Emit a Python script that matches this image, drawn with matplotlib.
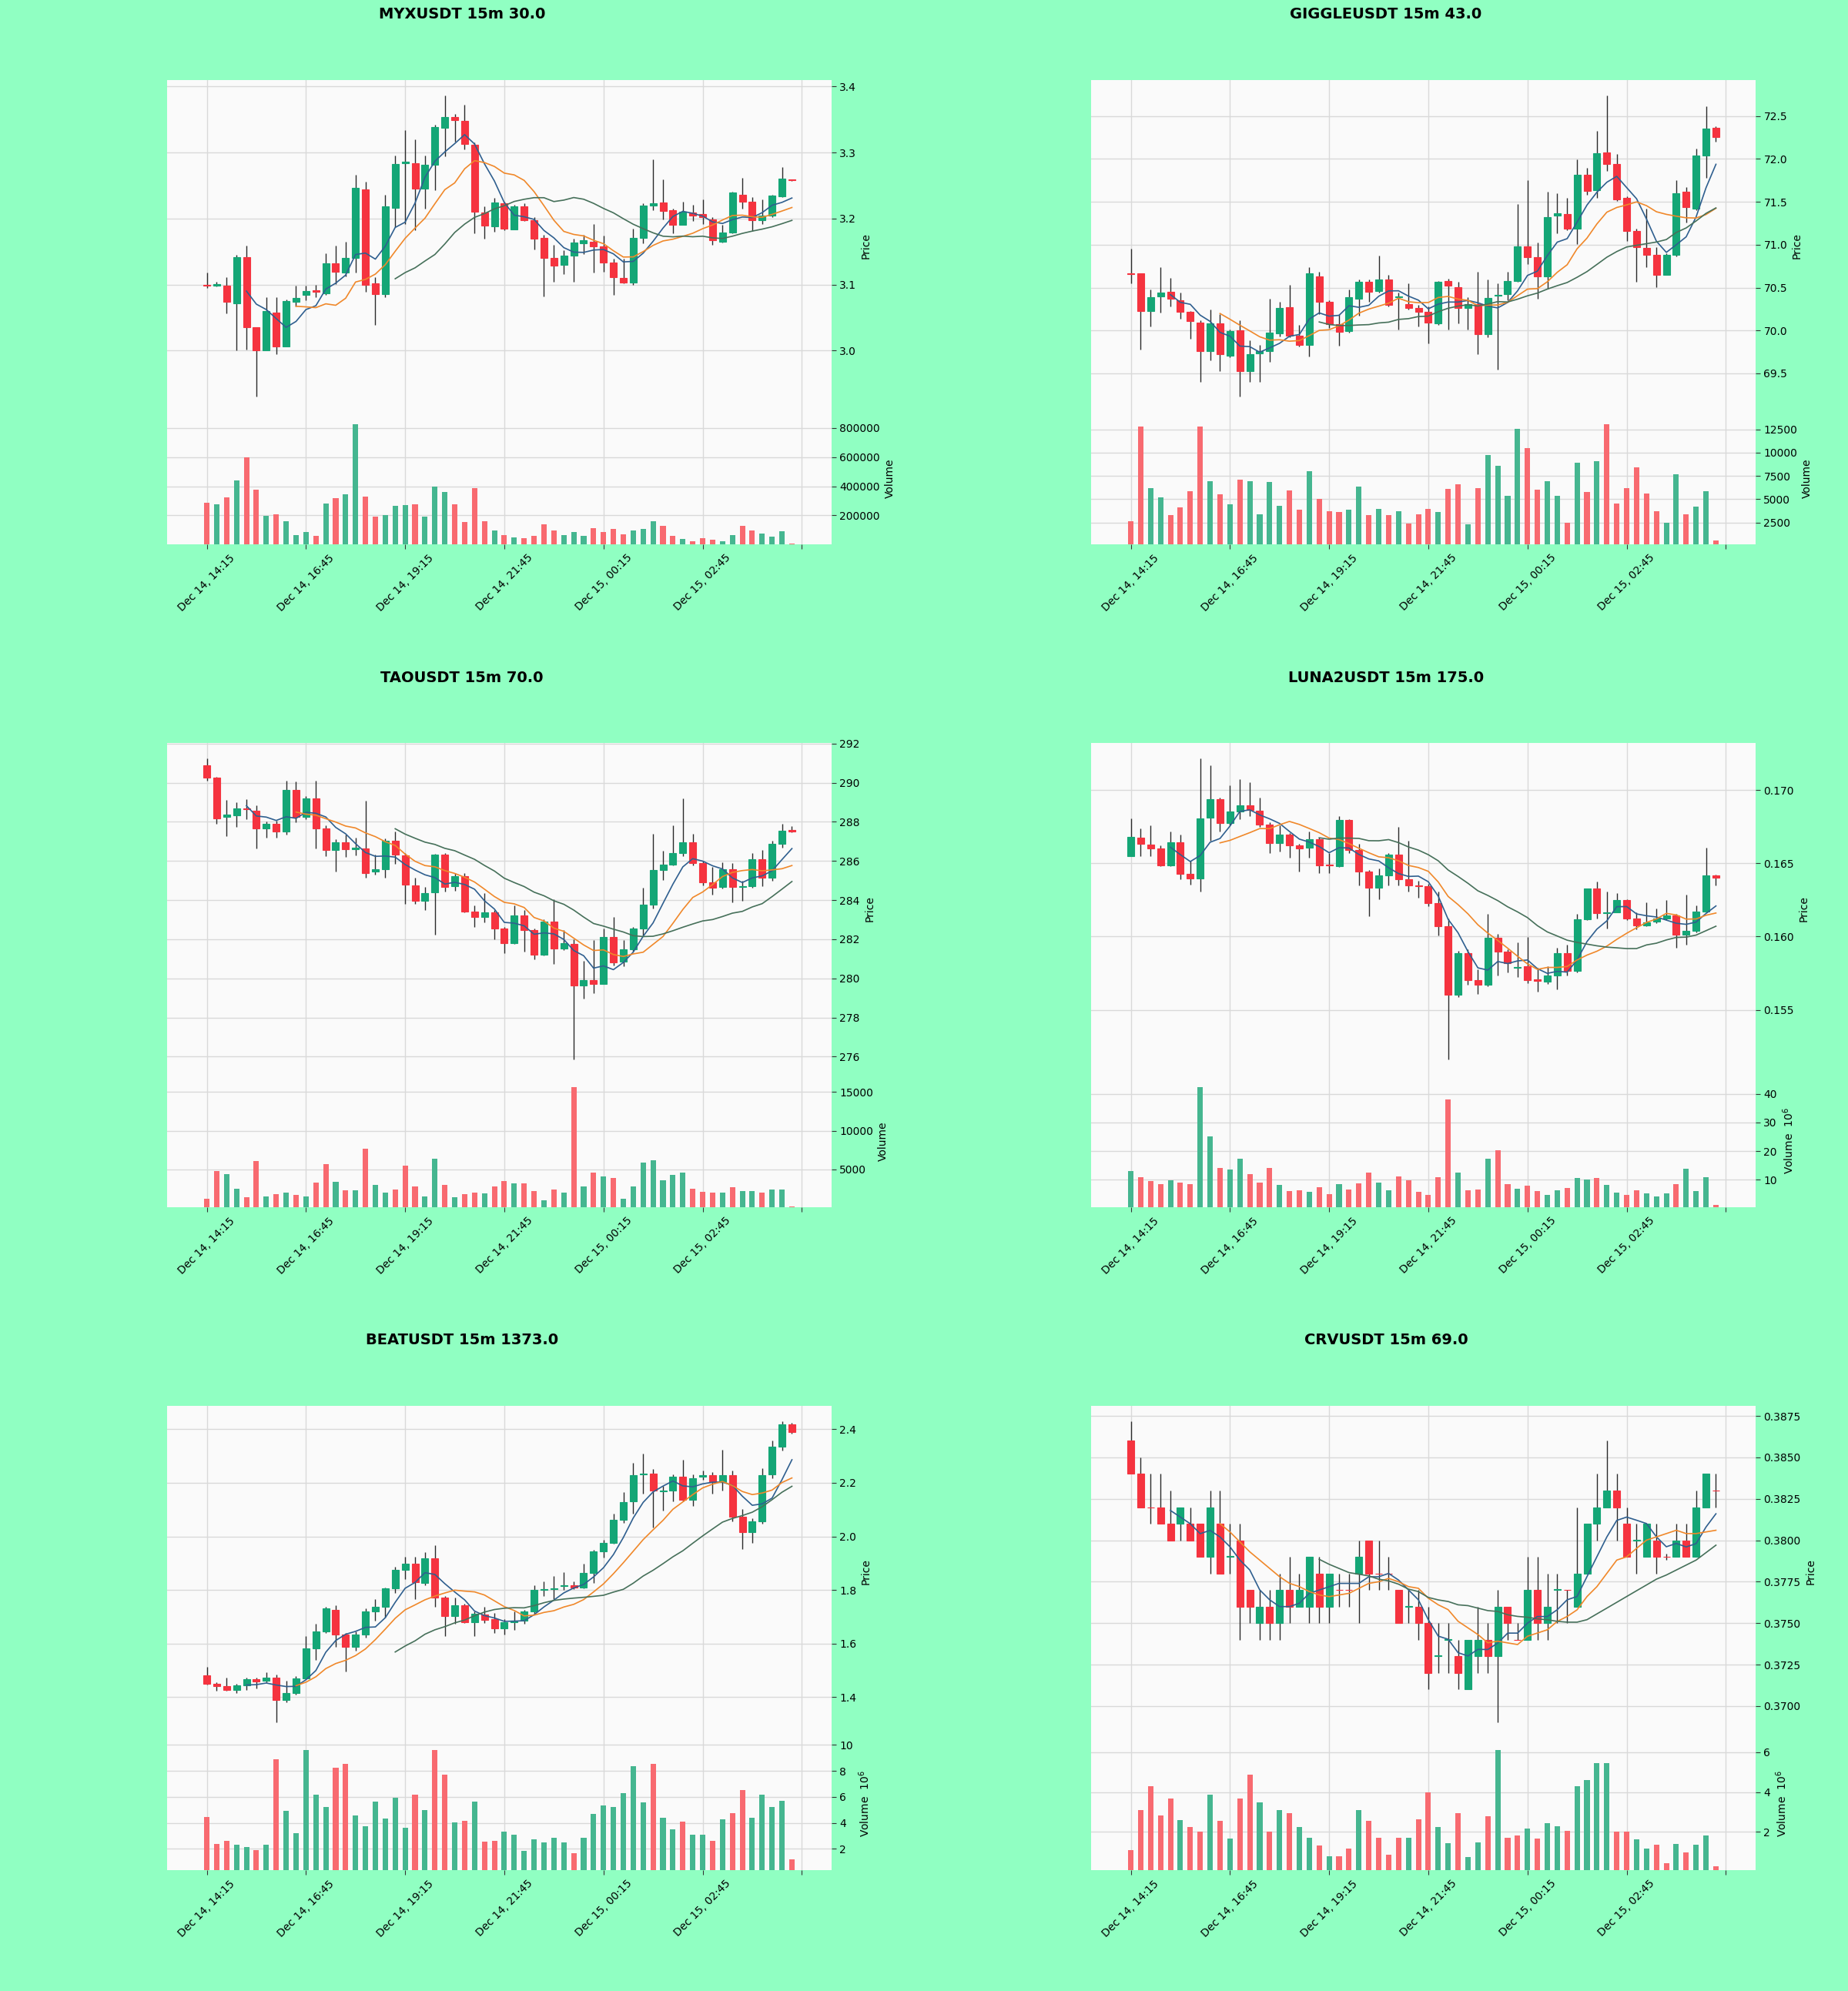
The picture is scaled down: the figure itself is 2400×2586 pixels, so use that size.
import numpy as np
import pandas as pd
import matplotlib
matplotlib.use('Agg')
import matplotlib.pyplot as plt
from matplotlib.ticker import FuncFormatter, MultipleLocator, ScalarFormatter

# 15m bars, 60 per symbol, first bar Dec 14 14:15
bar_times = pd.date_range('2025-12-14 14:15', periods=60, freq='15min')

symbols = ['MYXUSDT', 'GIGGLEUSDT', 'TAOUSDT', 'LUNA2USDT', 'BEATUSDT', 'CRVUSDT']
scores = [30.0, 43.0, 70.0, 175.0, 1373.0, 69.0]

# ---- MYXUSDT ----
myx_open = [3.100, 3.099, 3.099, 3.072, 3.142, 3.036, 3.000, 3.058, 3.006, 3.074,
            3.084, 3.091, 3.087, 3.132, 3.118, 3.141, 3.244, 3.102, 3.086, 3.216,
            3.284, 3.284, 3.245, 3.281, 3.337, 3.354, 3.348, 3.312, 3.209, 3.188,
            3.223, 3.184, 3.218, 3.198, 3.171, 3.140, 3.130, 3.144, 3.162, 3.165,
            3.158, 3.133, 3.110, 3.103, 3.171, 3.220, 3.224, 3.213, 3.191, 3.209,
            3.207, 3.199, 3.165, 3.179, 3.236, 3.225, 3.198, 3.204, 3.234, 3.259]
myx_high = [3.118, 3.104, 3.111, 3.145, 3.159, 3.036, 3.081, 3.081, 3.078, 3.099,
            3.099, 3.100, 3.148, 3.159, 3.165, 3.266, 3.256, 3.111, 3.236, 3.296,
            3.334, 3.320, 3.296, 3.342, 3.387, 3.359, 3.373, 3.315, 3.219, 3.231,
            3.226, 3.221, 3.223, 3.202, 3.175, 3.160, 3.152, 3.170, 3.175, 3.192,
            3.174, 3.139, 3.139, 3.185, 3.223, 3.290, 3.259, 3.215, 3.225, 3.221,
            3.229, 3.202, 3.190, 3.241, 3.262, 3.232, 3.229, 3.236, 3.278, 3.259]
myx_low = [3.095, 3.097, 3.057, 3.000, 3.002, 2.930, 3.000, 2.995, 3.006, 3.067,
           3.076, 3.081, 3.085, 3.101, 3.113, 3.118, 3.089, 3.039, 3.081, 3.187,
           3.192, 3.182, 3.215, 3.243, 3.294, 3.317, 3.305, 3.178, 3.169, 3.180,
           3.182, 3.183, 3.196, 3.153, 3.082, 3.104, 3.116, 3.104, 3.146, 3.118,
           3.119, 3.085, 3.102, 3.100, 3.162, 3.213, 3.199, 3.178, 3.190, 3.196,
           3.192, 3.160, 3.164, 3.178, 3.215, 3.181, 3.192, 3.202, 3.232, 3.257]
myx_close = [3.099, 3.101, 3.074, 3.142, 3.035, 3.000, 3.060, 3.006, 3.075, 3.080,
             3.090, 3.089, 3.132, 3.120, 3.141, 3.246, 3.100, 3.086, 3.218, 3.283,
             3.286, 3.245, 3.281, 3.339, 3.354, 3.349, 3.313, 3.210, 3.189, 3.224,
             3.185, 3.218, 3.198, 3.169, 3.140, 3.129, 3.144, 3.164, 3.167, 3.158,
             3.133, 3.111, 3.103, 3.171, 3.220, 3.223, 3.211, 3.191, 3.210, 3.205,
             3.202, 3.167, 3.179, 3.239, 3.225, 3.198, 3.204, 3.235, 3.261, 3.258]
myx_vol = [284e3, 278e3, 322e3, 442e3, 596e3, 375e3, 196e3, 210e3, 158e3, 63e3,
           84e3, 57e3, 280e3, 316e3, 347e3, 827e3, 330e3, 190e3, 204e3, 263e3,
           269e3, 274e3, 192e3, 400e3, 358e3, 276e3, 152e3, 389e3, 158e3, 99e3,
           63e3, 48e3, 42e3, 57e3, 141e3, 95e3, 63e3, 88e3, 59e3, 112e3,
           88e3, 105e3, 69e3, 95e3, 105e3, 162e3, 130e3, 57e3, 36e3, 21e3,
           46e3, 32e3, 21e3, 67e3, 130e3, 99e3, 74e3, 53e3, 90e3, 5e3]

# ---- GIGGLEUSDT ----
giggle_open = [70.662, 70.662, 70.224, 70.395, 70.449, 70.349, 70.214, 70.093, 69.761, 70.082,
               69.708, 70.000, 69.530, 69.736, 69.761, 69.964, 70.271, 69.939, 69.833, 70.634,
               70.331, 70.071, 69.993, 70.367, 70.570, 70.456, 70.591, 70.390, 70.306, 70.260,
               70.214, 70.082, 70.580, 70.509, 70.260, 70.306, 69.957, 70.410, 70.420, 70.577,
               70.983, 70.855, 70.627, 71.339, 71.353, 71.186, 71.816, 71.638, 72.073, 71.944,
               71.542, 71.161, 70.965, 70.883, 70.652, 70.883, 71.613, 71.424, 72.041, 72.361]
giggle_high = [70.954, 70.670, 70.474, 70.734, 70.616, 70.438, 70.224, 70.118, 70.242, 70.189,
               70.011, 70.118, 69.886, 69.833, 70.367, 70.331, 70.527, 70.064, 70.741, 70.687,
               70.349, 70.189, 70.474, 70.598, 70.598, 70.876, 70.652, 70.440, 70.545, 70.296,
               70.278, 70.580, 70.605, 70.563, 70.385, 70.687, 70.598, 70.545, 70.687, 71.471,
               71.756, 71.026, 71.613, 71.595, 71.542, 71.994, 71.898, 72.326, 72.742, 72.058,
               71.560, 71.186, 71.417, 70.972, 70.901, 71.756, 71.667, 72.119, 72.610, 72.379]
giggle_low = [70.545, 69.779, 70.046, 70.207, 70.278, 70.135, 69.904, 69.405, 69.655, 69.530,
              69.690, 69.227, 69.405, 69.405, 69.637, 69.929, 69.922, 69.815, 69.700, 70.189,
              70.028, 69.822, 69.975, 70.171, 70.331, 70.438, 70.278, 70.010, 70.242, 70.046,
              69.850, 70.064, 70.011, 70.082, 70.011, 69.726, 69.920, 69.548, 70.349, 70.563,
              70.776, 70.367, 70.491, 71.132, 71.168, 71.008, 71.578, 71.542, 71.863, 71.506,
              71.043, 70.563, 70.741, 70.509, 70.652, 70.865, 71.257, 71.400, 71.774, 72.200]
giggle_close = [70.660, 70.224, 70.392, 70.445, 70.367, 70.214, 70.107, 69.761, 70.082, 69.726,
                69.993, 69.530, 69.726, 69.761, 69.975, 70.260, 69.939, 69.833, 70.662, 70.331,
                70.071, 69.986, 70.392, 70.570, 70.449, 70.598, 70.296, 70.400, 70.260, 70.214,
                70.093, 70.570, 70.520, 70.260, 70.306, 69.957, 70.377, 70.415, 70.577, 70.983,
                70.855, 70.627, 71.318, 71.364, 71.186, 71.816, 71.624, 72.066, 71.944, 71.531,
                71.161, 70.972, 70.883, 70.652, 70.883, 71.603, 71.435, 72.041, 72.350, 72.254]
giggle_vol = [2632, 12765, 6185, 5165, 3290, 4112, 5856, 12831, 6975, 5527,
              4441, 7139, 6909, 3356, 6843, 4277, 5922, 3882, 8028, 5000,
              3685, 3619, 3882, 6350, 3290, 3948, 3290, 3685, 2369, 3356,
              3948, 3619, 6086, 6580, 2303, 6185, 9771, 8554, 5330, 12568,
              10462, 5988, 6909, 5330, 2468, 8949, 5758, 9113, 13061, 4540,
              6185, 8455, 5593, 3685, 2468, 7666, 3356, 4211, 5856, 559]

# ---- TAOUSDT ----
tao_open = [290.90, 290.27, 288.24, 288.33, 288.69, 288.55, 287.65, 287.89, 287.50, 289.62,
            288.24, 289.18, 287.65, 286.56, 286.95, 286.60, 286.64, 285.46, 285.58, 287.03,
            286.27, 284.75, 283.97, 284.41, 286.32, 284.71, 285.22, 283.42, 283.15, 283.39,
            282.56, 281.80, 283.22, 282.48, 281.22, 282.90, 281.54, 281.77, 279.65, 279.89,
            279.73, 282.12, 280.86, 281.49, 282.53, 283.78, 285.54, 285.82, 286.40, 286.95,
            285.88, 284.91, 284.67, 285.58, 284.67, 284.70, 286.09, 285.15, 286.87, 287.58]
tao_high = [291.26, 290.30, 289.11, 289.02, 289.15, 288.83, 288.00, 288.05, 290.09, 290.05,
            289.30, 290.09, 287.81, 287.11, 287.34, 287.18, 289.07, 286.32, 287.14, 287.50,
            286.40, 285.15, 284.67, 286.35, 286.40, 285.38, 285.38, 283.73, 284.36, 283.50,
            282.64, 283.73, 283.49, 282.53, 283.03, 284.05, 282.48, 282.01, 280.91, 281.96,
            282.56, 283.15, 281.96, 282.64, 284.63, 287.39, 286.51, 287.81, 289.18, 287.39,
            286.01, 285.69, 285.93, 285.88, 284.99, 286.40, 286.56, 287.03, 287.89, 287.78]
tao_low = [290.09, 287.89, 287.26, 287.73, 288.13, 286.64, 287.18, 287.18, 287.34, 287.97,
           288.13, 286.64, 286.24, 285.46, 286.20, 286.27, 285.15, 285.30, 285.15, 285.85,
           283.81, 283.81, 283.50, 282.24, 284.44, 284.47, 283.37, 282.64, 282.87, 282.01,
           281.27, 281.77, 281.38, 280.99, 281.15, 280.75, 281.46, 275.84, 278.98, 279.26,
           279.70, 280.67, 280.60, 281.38, 282.16, 283.58, 285.04, 285.77, 286.24, 285.77,
           284.75, 284.28, 284.60, 283.89, 283.97, 284.64, 284.72, 284.99, 286.67, 287.47]
tao_close = [290.27, 288.17, 288.36, 288.67, 288.64, 287.65, 287.89, 287.50, 289.62, 288.24,
             289.18, 287.65, 286.56, 286.95, 286.60, 286.67, 285.38, 285.58, 287.03, 286.32,
             284.78, 283.97, 284.36, 286.32, 284.67, 285.22, 283.42, 283.15, 283.37, 282.56,
             281.80, 283.22, 282.48, 281.22, 282.90, 281.54, 281.80, 279.65, 279.89, 279.73,
             282.12, 280.83, 281.49, 282.53, 283.78, 285.54, 285.82, 286.40, 286.95, 285.88,
             284.91, 284.63, 285.58, 284.67, 284.70, 286.09, 285.15, 286.87, 287.55, 287.51]
tao_vol = [1200, 4800, 4400, 2480, 1400, 6080, 1480, 1800, 2000, 1680,
           1480, 3280, 5680, 3360, 2280, 2280, 7680, 3000, 2000, 2360,
           5480, 2800, 1480, 6320, 3000, 1400, 1720, 1920, 1880, 2800,
           3480, 3120, 3120, 2120, 1000, 2400, 2000, 15680, 2720, 4600,
           4080, 3880, 1120, 2720, 5880, 6200, 3600, 4280, 4600, 2480,
           2080, 2000, 1920, 2680, 2120, 2120, 2000, 2400, 2400, 200]

# ---- LUNA2USDT ----
luna_open = [0.16550, 0.16675, 0.16627, 0.16602, 0.16487, 0.16644, 0.16426, 0.16397, 0.16811, 0.16940,
             0.16773, 0.16852, 0.16898, 0.16857, 0.16765, 0.16639, 0.16696, 0.16623, 0.16606, 0.16664,
             0.16490, 0.16481, 0.16794, 0.16591, 0.16445, 0.16334, 0.16418, 0.16560, 0.16393, 0.16350,
             0.16345, 0.16226, 0.16069, 0.15603, 0.15887, 0.15703, 0.15672, 0.15992, 0.15896, 0.15789,
             0.15797, 0.15707, 0.15693, 0.15735, 0.15887, 0.15766, 0.16117, 0.16326, 0.16159, 0.16167,
             0.16251, 0.16121, 0.16075, 0.16104, 0.16125, 0.16146, 0.16013, 0.16038, 0.16173, 0.16418]
luna_high = [0.16807, 0.16738, 0.16758, 0.16623, 0.16717, 0.16696, 0.16518, 0.17218, 0.17166, 0.16946,
             0.17030, 0.17072, 0.17051, 0.16946, 0.16779, 0.16758, 0.16706, 0.16633, 0.16717, 0.16675,
             0.16570, 0.16821, 0.16800, 0.16633, 0.16455, 0.16466, 0.16570, 0.16748, 0.16654, 0.16382,
             0.16361, 0.16309, 0.16121, 0.15902, 0.15912, 0.15776, 0.16153, 0.16017, 0.15912, 0.15958,
             0.15996, 0.15787, 0.15797, 0.15923, 0.15944, 0.16153, 0.16330, 0.16376, 0.16309, 0.16299,
             0.16257, 0.16167, 0.16236, 0.16194, 0.16247, 0.16153, 0.16288, 0.16215, 0.16606, 0.16424]
luna_low = [0.16550, 0.16550, 0.16550, 0.16481, 0.16481, 0.16393, 0.16355, 0.16305, 0.16654, 0.16717,
            0.16758, 0.16800, 0.16821, 0.16748, 0.16570, 0.16581, 0.16539, 0.16445, 0.16539, 0.16435,
            0.16435, 0.16477, 0.16570, 0.16351, 0.16138, 0.16257, 0.16347, 0.16347, 0.16309, 0.16267,
            0.16205, 0.16006, 0.15160, 0.15588, 0.15672, 0.15609, 0.15662, 0.15735, 0.15756, 0.15724,
            0.15682, 0.15624, 0.15678, 0.15641, 0.15735, 0.15756, 0.16111, 0.16121, 0.16054, 0.16163,
            0.16111, 0.16048, 0.16069, 0.16090, 0.16111, 0.15923, 0.15944, 0.16027, 0.16163, 0.16347]
luna_close = [0.16681, 0.16633, 0.16602, 0.16487, 0.16644, 0.16430, 0.16397, 0.16807, 0.16940, 0.16773,
              0.16852, 0.16898, 0.16863, 0.16765, 0.16639, 0.16696, 0.16623, 0.16602, 0.16664, 0.16487,
              0.16485, 0.16794, 0.16591, 0.16445, 0.16334, 0.16418, 0.16560, 0.16393, 0.16347, 0.16345,
              0.16226, 0.16069, 0.15603, 0.15887, 0.15703, 0.15672, 0.15992, 0.15896, 0.15818, 0.15793,
              0.15703, 0.15697, 0.15735, 0.15887, 0.15766, 0.16117, 0.16326, 0.16159, 0.16167, 0.16251,
              0.16121, 0.16075, 0.16096, 0.16125, 0.16146, 0.16013, 0.16038, 0.16173, 0.16418, 0.16403]
luna_vol_m = [13.0, 10.9, 9.5, 8.4, 9.8, 9.0, 8.4, 42.4, 25.0, 14.0,
              13.5, 17.3, 12.0, 9.0, 14.0, 8.1, 6.0, 6.3, 5.8, 7.4,
              4.9, 8.4, 6.6, 8.8, 12.4, 9.0, 6.3, 11.1, 9.8, 5.8,
              4.7, 10.8, 38.1, 12.4, 6.3, 6.6, 17.3, 20.2, 8.4, 6.8,
              7.9, 6.0, 4.7, 6.3, 7.1, 10.6, 10.1, 10.6, 8.1, 5.5,
              4.7, 6.3, 5.2, 4.2, 5.2, 8.4, 13.8, 6.0, 10.9, 1.2]

# ---- BEATUSDT ----
beat_open = [1.4805, 1.4506, 1.4414, 1.4253, 1.4425, 1.4655, 1.4598, 1.4713, 1.3885, 1.4138,
             1.4690, 1.5805, 1.6437, 1.7264, 1.6322, 1.5862, 1.6345, 1.7184, 1.7379, 1.8046,
             1.8736, 1.8966, 1.8253, 1.9195, 1.7724, 1.7011, 1.7414, 1.6805, 1.7069, 1.6897,
             1.6575, 1.6805, 1.6840, 1.7184, 1.8015, 1.8035, 1.8138, 1.8184, 1.8103, 1.8644,
             1.9448, 1.9770, 2.0632, 2.1322, 2.2322, 2.2356, 2.1690, 2.1724, 2.2241, 2.1379,
             2.2241, 2.2276, 2.2034, 2.2299, 2.0747, 2.0172, 2.0575, 2.2322, 2.3356, 2.4195]
beat_high = [1.5115, 1.4540, 1.4713, 1.4483, 1.4713, 1.4736, 1.4920, 1.4828, 1.4598, 1.4770,
             1.6264, 1.6724, 1.7356, 1.7414, 1.6379, 1.6437, 1.7299, 1.7644, 1.8103, 1.8851,
             1.9250, 1.9250, 1.9402, 1.9678, 1.7759, 1.7701, 1.7471, 1.7184, 1.7356, 1.7149,
             1.6897, 1.7184, 1.7241, 1.8161, 1.8333, 1.8506, 1.8678, 1.8333, 1.8990, 1.9483,
             1.9885, 2.0862, 2.1667, 2.2759, 2.3103, 2.2529, 2.1897, 2.2322, 2.2874, 2.2322,
             2.2471, 2.2414, 2.3241, 2.2471, 2.1011, 2.0690, 2.2552, 2.3586, 2.4310, 2.4230]
beat_low = [1.4460, 1.4230, 1.4230, 1.4161, 1.4253, 1.4310, 1.4540, 1.3046, 1.3793, 1.4080,
            1.4655, 1.5400, 1.6379, 1.5862, 1.4943, 1.5724, 1.6207, 1.6839, 1.6954, 1.7874,
            1.8391, 1.7644, 1.8184, 1.7379, 1.6264, 1.6724, 1.6759, 1.6264, 1.6759, 1.6380,
            1.6322, 1.6494, 1.6724, 1.7103, 1.7759, 1.7644, 1.7989, 1.8023, 1.8046, 1.8253,
            1.9218, 1.9713, 2.0517, 2.0862, 2.1609, 2.0345, 2.0977, 2.1322, 2.1322, 2.1149,
            2.2126, 2.1586, 2.1724, 2.0575, 1.9540, 1.9770, 2.0483, 2.2184, 2.3218, 2.3850]
beat_close = [1.4506, 1.4414, 1.4253, 1.4425, 1.4655, 1.4575, 1.4713, 1.3885, 1.4138, 1.4690,
              1.5805, 1.6437, 1.7300, 1.6322, 1.5862, 1.6345, 1.7184, 1.7379, 1.8046, 1.8736,
              1.8966, 1.8276, 1.9195, 1.7724, 1.7011, 1.7414, 1.6805, 1.7103, 1.6874, 1.6575,
              1.6782, 1.6840, 1.7184, 1.7989, 1.8035, 1.8058, 1.8184, 1.8103, 1.8644, 1.9448,
              1.9770, 2.0632, 2.1287, 2.2299, 2.2356, 2.1724, 2.1724, 2.2241, 2.1379, 2.2184,
              2.2276, 2.2034, 2.2276, 2.0747, 2.0172, 2.0575, 2.2299, 2.3356, 2.4195, 2.3885]
beat_vol_m = [4.44, 2.35, 2.59, 2.30, 2.16, 1.88, 2.30, 8.88, 4.92, 3.18,
              9.60, 6.20, 5.25, 8.22, 8.57, 4.56, 3.73, 5.61, 4.32, 5.91,
              3.61, 6.20, 5.01, 9.60, 7.70, 4.01, 4.18, 5.61, 2.54, 2.59,
              3.30, 3.11, 1.83, 2.71, 2.47, 2.83, 2.47, 1.69, 2.83, 4.68,
              5.37, 5.20, 6.27, 8.36, 5.56, 8.53, 4.37, 3.49, 4.09, 3.11,
              3.11, 2.59, 4.25, 4.77, 6.51, 4.37, 6.20, 5.20, 5.72, 1.21]

# ---- CRVUSDT ----
crv_open = [0.386, 0.384, 0.382, 0.382, 0.381, 0.381, 0.381, 0.381, 0.379, 0.381,
            0.379, 0.380, 0.377, 0.375, 0.376, 0.375, 0.377, 0.376, 0.376, 0.378,
            0.376, 0.377, 0.377, 0.378, 0.380, 0.378, 0.378, 0.377, 0.376, 0.376,
            0.375, 0.373, 0.374, 0.373, 0.371, 0.373, 0.374, 0.373, 0.376, 0.374,
            0.374, 0.377, 0.375, 0.377, 0.377, 0.376, 0.378, 0.381, 0.382, 0.383,
            0.381, 0.380, 0.379, 0.380, 0.379, 0.379, 0.380, 0.379, 0.382, 0.383]
crv_high = [0.3872, 0.385, 0.384, 0.384, 0.383, 0.382, 0.382, 0.381, 0.383, 0.383,
            0.381, 0.381, 0.377, 0.377, 0.377, 0.378, 0.379, 0.378, 0.379, 0.379,
            0.378, 0.378, 0.378, 0.380, 0.380, 0.380, 0.379, 0.377, 0.377, 0.377,
            0.376, 0.375, 0.375, 0.374, 0.374, 0.376, 0.375, 0.377, 0.376, 0.375,
            0.379, 0.379, 0.378, 0.378, 0.377, 0.382, 0.381, 0.384, 0.386, 0.384,
            0.382, 0.381, 0.381, 0.381, 0.3792, 0.381, 0.381, 0.383, 0.384, 0.384]
crv_low = [0.384, 0.382, 0.381, 0.381, 0.380, 0.380, 0.380, 0.379, 0.378, 0.378,
           0.378, 0.374, 0.375, 0.374, 0.374, 0.374, 0.375, 0.376, 0.375, 0.375,
           0.375, 0.376, 0.376, 0.375, 0.377, 0.377, 0.377, 0.375, 0.375, 0.374,
           0.371, 0.372, 0.372, 0.371, 0.371, 0.372, 0.372, 0.369, 0.374, 0.374,
           0.374, 0.374, 0.374, 0.375, 0.375, 0.376, 0.378, 0.380, 0.382, 0.380,
           0.379, 0.378, 0.379, 0.378, 0.3788, 0.379, 0.379, 0.379, 0.382, 0.382]
crv_close = [0.384, 0.382, 0.382, 0.381, 0.380, 0.382, 0.380, 0.379, 0.382, 0.378,
             0.37905, 0.376, 0.376, 0.376, 0.375, 0.377, 0.376, 0.377, 0.379, 0.376,
             0.378, 0.377, 0.377, 0.379, 0.378, 0.378, 0.378, 0.375, 0.37605, 0.375,
             0.372, 0.37305, 0.37405, 0.372, 0.374, 0.374, 0.373, 0.376, 0.375, 0.374,
             0.377, 0.375, 0.376, 0.37705, 0.377, 0.378, 0.381, 0.382, 0.383, 0.382,
             0.379, 0.38005, 0.381, 0.379, 0.379, 0.380, 0.379, 0.382, 0.384, 0.383]
crv_vol_m = [1.08, 3.11, 4.28, 2.82, 3.69, 2.58, 2.26, 2.03, 3.88, 2.54,
             1.65, 3.69, 4.88, 3.49, 2.00, 3.11, 2.95, 2.23, 1.69, 1.31,
             0.77, 0.77, 1.18, 3.08, 2.54, 1.69, 0.85, 1.69, 1.69, 2.62,
             3.97, 2.23, 1.42, 2.95, 0.72, 1.46, 2.77, 6.12, 1.72, 1.82,
             2.15, 1.66, 2.42, 2.28, 2.05, 4.28, 4.62, 5.46, 5.46, 2.00,
             2.03, 1.62, 1.15, 1.35, 0.43, 1.38, 0.95, 1.34, 1.82, 0.26]

charts = [
    (myx_open, myx_high, myx_low, myx_close, np.array(myx_vol)),
    (giggle_open, giggle_high, giggle_low, giggle_close, np.array(giggle_vol, float)),
    (tao_open, tao_high, tao_low, tao_close, np.array(tao_vol, float)),
    (luna_open, luna_high, luna_low, luna_close, np.array(luna_vol_m) * 1e6),
    (beat_open, beat_high, beat_low, beat_close, np.array(beat_vol_m) * 1e6),
    (crv_open, crv_high, crv_low, crv_close, np.array(crv_vol_m) * 1e6),
]
price_steps = [0.1, 0.5, 2, 0.005, 0.2, 0.0025]

# styling
BG = '#90ffc2'
FACE = '#fafafa'
UP, DOWN = '#14a676', '#f5333f'
VUP, VDOWN = '#45b690', '#f86a70'
WICK = '#2b2b2b'
MA_WINDOWS = [5, 10, 20]
MA_COLORS = ['#2f5f8f', '#f0882a', '#46705a']
GRID = '#d9d9d9'

W, H = 2400, 2586
fig = plt.figure(figsize=(W / 100, H / 100), dpi=100, facecolor=BG)

col_left = [217, 1417]
row_top = [104, 965, 1826]
ax_w, price_h, vol_h = 863, 431, 172


def style_axis(ax):
    ax.set_facecolor(FACE)
    for s in ax.spines.values():
        s.set_visible(False)
    ax.grid(True, color=GRID, linewidth=1.0)
    ax.set_axisbelow(True)
    ax.yaxis.tick_right()
    ax.yaxis.set_label_position('right')
    ax.tick_params(axis='both', labelsize=10, length=4, width=0.8, color='#333333')


for k, (o, h, l, c, v) in enumerate(charts):
    o, h, l, c = map(np.asarray, (o, h, l, c))
    n = len(o)
    x = np.arange(n)
    r, col = divmod(k, 2)
    left = col_left[col] / W
    top = row_top[r]

    axp = fig.add_axes([left, 1 - (top + price_h) / H, ax_w / W, price_h / H])
    axv = fig.add_axes([left, 1 - (top + price_h + vol_h) / H, ax_w / W, vol_h / H], sharex=axp)
    style_axis(axp)
    style_axis(axv)

    up = c > o
    body_col = np.where(up, UP, DOWN)
    axp.vlines(x, l, h, color=WICK, linewidth=1.0, zorder=2)
    axp.bar(x, np.abs(c - o), bottom=np.minimum(o, c), width=0.7,
            color=body_col, edgecolor=body_col, linewidth=0.8, zorder=3)

    closes = pd.Series(c)
    for win, mc in zip(MA_WINDOWS, MA_COLORS):
        axp.plot(x, closes.rolling(win).mean(), color=mc, linewidth=1.2, zorder=4)

    lo, hi = l.min(), h.max()
    pad = (hi - lo) * 0.05
    axp.set_ylim(lo - pad, hi + pad)
    axp.yaxis.set_major_locator(MultipleLocator(price_steps[k]))
    axp.yaxis.set_major_formatter(ScalarFormatter(useOffset=False))
    axp.set_ylabel('Price', fontsize=10)
    axp.tick_params(axis='x', bottom=False, labelbottom=False)

    axv.bar(x, v, width=0.55, color=np.where(up, VUP, VDOWN), zorder=3)
    axv.set_ylim(0.3 * v.min(), 1.1 * v.max())
    if v.max() >= 1e6:
        axv.yaxis.set_major_formatter(FuncFormatter(lambda val, pos: f'{val / 1e6:g}'))
        axv.set_ylabel('Volume  $10^{6}$', fontsize=10)
    else:
        axv.yaxis.set_major_formatter(ScalarFormatter(useOffset=False))
        axv.set_ylabel('Volume', fontsize=10)

    ticks = list(range(0, 61, 10))
    labels = [bar_times[t].strftime('%b %d, %H:%M') if t < n else '' for t in ticks]
    axv.set_xticks(ticks)
    axv.set_xticklabels(labels, rotation=45, fontsize=10)
    axv.set_xlim(-4, 63)

    fig.text(0.25 + 0.5 * col, 1 - (19 + 861 * r) / H, f'{symbols[k]} 15m {scores[k]}',
             ha='center', va='center', fontsize=14, fontweight='bold')

fig.savefig('out.png', dpi=100, facecolor=BG)
